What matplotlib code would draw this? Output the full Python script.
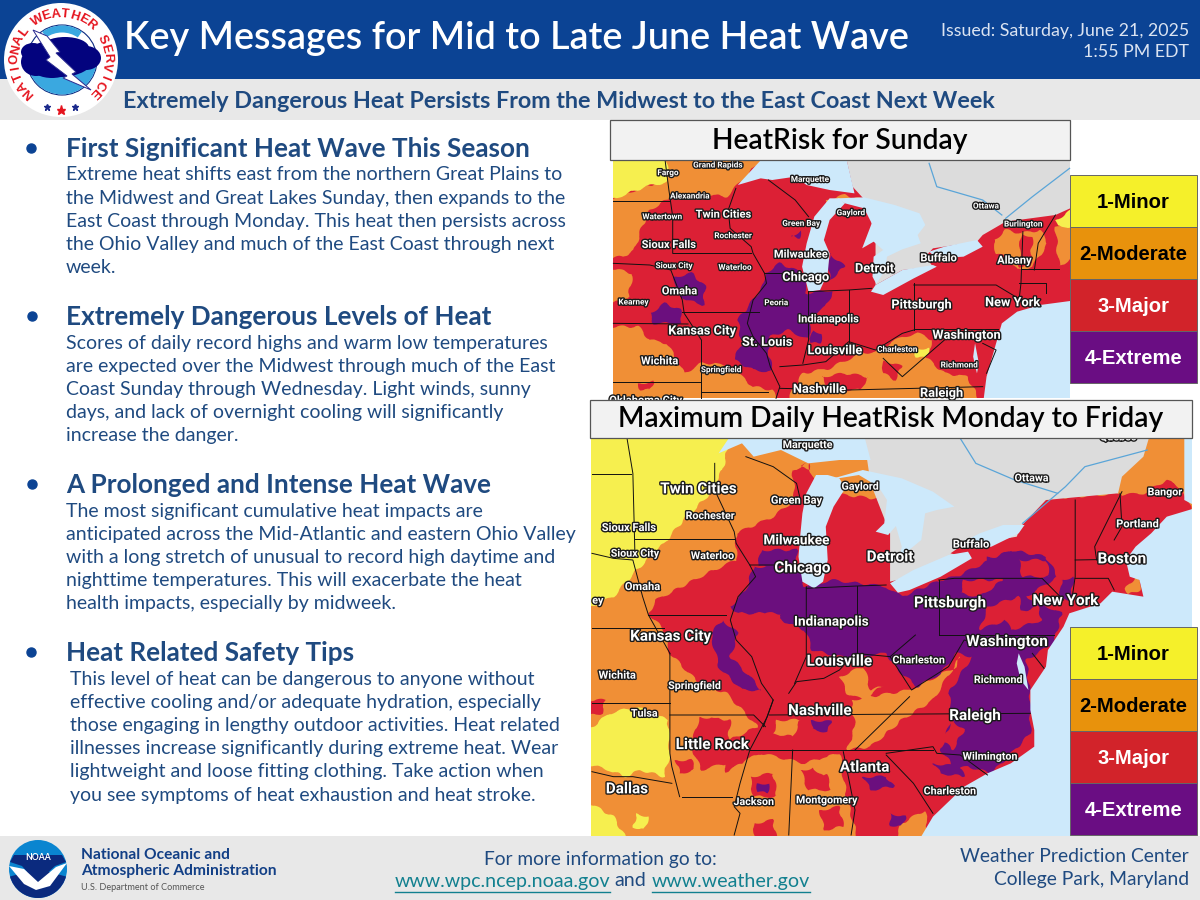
import numpy as np
import matplotlib
matplotlib.use("Agg")
import matplotlib.pyplot as plt
import matplotlib.patheffects as pe
from matplotlib.patches import Rectangle, Polygon, Circle, Wedge, Ellipse

FONT = "Lato"
BLUE_DARK = "#0b4394"
TEXT_BLUE = "#1f4a80"
GRAY = "#e8e8e8"
MAP_Y = "#f6ef4f"
MAP_O = "#f08f36"
MAP_R = "#dc2035"
MAP_P = "#6b0f7e"
WATER = "#cde9fb"
CANADA = "#dcdcdc"

title = "Key Messages for Mid to Late June Heat Wave"
subtitle = "Extremely Dangerous Heat Persists From the Midwest to the East Coast Next Week"
issued = ["Issued: Saturday, June 21, 2025", "1:55 PM EDT"]

headings = ["First Significant Heat Wave This Season",
            "Extremely Dangerous Levels of Heat",
            "A Prolonged and Intense Heat Wave",
            "Heat Related Safety Tips"]
body_1 = ["Extreme heat shifts east from the northern Great Plains to",
          "the Midwest and Great Lakes Sunday, then expands to the",
          "East Coast through Monday. This heat then persists across",
          "the Ohio Valley and much of the East Coast through next",
          "week."]
body_2 = ["Scores of daily record highs and warm low temperatures",
          "are expected over the Midwest through much of the East",
          "Coast Sunday through Wednesday. Light winds, sunny",
          "days, and lack of overnight cooling will significantly",
          "increase the danger."]
body_3 = ["The most significant cumulative heat impacts are",
          "anticipated across the Mid-Atlantic and eastern Ohio Valley",
          "with a long stretch of unusual to record high daytime and",
          "nighttime temperatures. This will exacerbate the heat",
          "health impacts, especially by midweek."]
body_4 = ["This level of heat can be dangerous to anyone without",
          "effective cooling and/or adequate hydration, especially",
          "those engaging in lengthy outdoor activities. Heat related",
          "illnesses increase significantly during extreme heat. Wear",
          "lightweight and loose fitting clothing. Take action when",
          "you see symptoms of heat exhaustion and heat stroke."]

legend_labels = ["1-Minor", "2-Moderate", "3-Major", "4-Extreme"]
legend_colors = ["#f5f02a", "#e8920c", "#d2232a", "#6a0d83"]
legend_text = ["black", "black", "white", "white"]

# Sunday map, traced outlines
top_orange = [
    [(170, 150), (440, 150), (360, 225), (330, 260), (250, 250), (180, 265), (130, 300), (110, 350), (90, 420), (60, 440), (35, 445), (35, 270), (120, 230), (170, 210)],
    [(35, 470), (85, 490), (75, 560), (35, 590)],
    [(35, 650), (100, 650), (130, 690), (175, 700), (220, 790), (265, 760), (300, 760), (350, 780), (400, 830), (450, 840), (470, 865), (35, 865)],
    [(480, 865), (530, 790), (600, 775), (680, 730), (720, 725), (790, 680), (830, 670), (870, 690), (850, 740), (900, 790), (960, 800), (1000, 865)],
    [(1030, 390), (1060, 360), (1100, 370), (1150, 360), (1170, 400), (1130, 470), (1090, 480), (1060, 440), (1035, 430)],
    [(1190, 350), (1227, 320), (1227, 430), (1200, 470), (1195, 420)],
    [(590, 270), (640, 255), (690, 270), (640, 275), (600, 290)],
]
top_yellow = [
    [(35, 150), (170, 150), (180, 215), (120, 230), (35, 275)],
    [(1190, 330), (1227, 290), (1227, 350), (1195, 350)],
    [(825, 715), (860, 715), (850, 745), (825, 740)],
]
top_red = [
    [(880, 700), (960, 730), (990, 800), (940, 790), (880, 760)],
    [(580, 800), (640, 790), (700, 800), (680, 840), (600, 840)],
    [(1100, 370), (1130, 380), (1125, 470), (1095, 470)],
    [(100, 820), (140, 815), (130, 840), (105, 838)],
    [(740, 750), (790, 770), (770, 810), (740, 790)],
]
top_purple = [
    [(430, 490), (470, 460), (530, 490), (540, 550), (610, 540), (590, 590), (545, 620), (550, 690), (490, 660), (445, 680), (440, 720), (450, 785), (400, 780), (350, 750), (370, 700), (360, 630), (400, 570), (430, 520)],
    [(195, 500), (240, 490), (275, 530), (270, 585), (225, 570), (195, 540)],
    [(130, 610), (170, 580), (210, 600), (215, 640), (140, 640)],
    [(600, 430), (640, 470), (600, 510), (598, 470)],
    [(500, 380), (525, 360), (520, 385)],
    [(555, 660), (580, 670), (575, 700), (550, 700)],
]
top_canada = [(640, 150), (1227, 150), (1227, 285), (1190, 315), (1060, 335), (1000, 375), (985, 395), (870, 415), (850, 440), (870, 470), (790, 480), (720, 525), (720, 400), (700, 280), (660, 230)]
top_lakes = [
    [(360, 225), (440, 150), (640, 150), (665, 250), (600, 240), (540, 225), (510, 200), (450, 210), (420, 205)],
    [(600, 265), (560, 320), (540, 400), (528, 470), (545, 545), (575, 540), (595, 490), (600, 430), (585, 390), (600, 330), (640, 280), (625, 265)],
    [(620, 265), (690, 262), (770, 285), (835, 310), (850, 345), (830, 375), (838, 400), (790, 418), (750, 440), (745, 480), (722, 522), (712, 500), (715, 440), (740, 420), (715, 395), (685, 415), (710, 340), (690, 295), (640, 280)],
    [(708, 545), (740, 555), (820, 505), (880, 470), (870, 465), (790, 480), (720, 525)],
    [(860, 425), (900, 410), (985, 390), (1000, 410), (950, 440), (880, 445)],
    [(1227, 570), (1150, 585), (1090, 605), (1050, 640), (1035, 700), (1010, 800), (1000, 865), (1227, 865)],
    [(980, 700), (990, 760), (985, 790), (975, 740)],
]
top_lines = [
    [(35, 272), (180, 272)], [(170, 150), (180, 240), (190, 320), (190, 430)],
    [(35, 460), (130, 465), (185, 480), (215, 570), (220, 610), (265, 690)], [(190, 430), (395, 430)],
    [(355, 235), (335, 300), (340, 355), (395, 410), (400, 430), (430, 490)], [(430, 490), (535, 490)],
    [(215, 605), (415, 605)], [(430, 490), (435, 520), (400, 570), (385, 640), (400, 680), (435, 730), (445, 770), (470, 830), (460, 865)],
    [(35, 640), (230, 642)], [(265, 690), (265, 865)], [(35, 815), (265, 815)], [(265, 845), (440, 845)],
    [(545, 545), (545, 690), (530, 760)], [(650, 540), (650, 695)], [(545, 545), (650, 540), (710, 535)],
    [(470, 770), (530, 765), (590, 755), (650, 695), (720, 720), (790, 670), (820, 660)], [(820, 520), (820, 660)],
    [(820, 525), (1035, 525), (1100, 570)], [(820, 658), (1040, 658)], [(470, 835), (650, 840), (1000, 830)],
    [(740, 745), (790, 800), (870, 720), (900, 690)], [(1105, 365), (1100, 520), (1095, 570)],
    [(1190, 315), (1145, 400), (1135, 480)], [(1100, 478), (1200, 478)], [(1095, 520), (1165, 520), (1165, 550)],
    [(440, 210), (510, 270), (545, 320)], [(1000, 700), (1035, 720), (1010, 790)],
]
top_rivers = [[(1227, 175), (1130, 260), (1060, 325)], [(860, 160), (880, 230), (1000, 270), (1050, 315)]]
# name, x, y, size class
top_cities = [
    ("Grand Rapids", 307, 165, 0), ("Fargo", 177, 188, 0), ("Alexandria", 234, 258, 0), ("Marquette", 548, 208, 0),
    ("Twin Cities", 323, 314, 1), ("Watertown", 162, 320, 0), ("Green Bay", 525, 340, 0), ("Gaylord", 655, 308, 0),
    ("Ottawa", 1008, 288, 0), ("Burlington", 1105, 342, 0), ("Rochester", 347, 377, 0), ("Sioux Falls", 180, 405, 1),
    ("Milwaukee", 525, 434, 1), ("Buffalo", 885, 445, 1), ("Albany", 1083, 452, 1), ("Sioux City", 193, 467, 0),
    ("Waterloo", 352, 472, 0), ("Chicago", 537, 502, 2), ("Detroit", 717, 476, 2), ("Omaha", 208, 544, 1),
    ("Kearney", 87, 576, 0), ("Peoria", 460, 578, 0), ("New York", 1078, 578, 2), ("Pittsburgh", 840, 585, 2),
    ("Indianapolis", 597, 628, 1), ("Kansas City", 266, 663, 2), ("Washington", 957, 676, 2), ("St. Louis", 436, 697, 2),
    ("Louisville", 613, 722, 2), ("Charleston", 776, 718, 0), ("Wichita", 156, 754, 1), ("Springfield", 316, 779, 0),
    ("Richmond", 938, 765, 0), ("Nashville", 573, 838, 2), ("Raleigh", 892, 850, 2), ("Oklahoma City", 120, 872, 1),
]

# Monday to Friday map, traced outlines
bot_yellow = [
    [(5, 115), (365, 115), (340, 210), (300, 290), (240, 360), (190, 430), (120, 510), (60, 590), (5, 630)],
    [(5, 1090), (5, 1000), (50, 940), (120, 920), (200, 960), (205, 1060), (190, 1130), (130, 1110), (90, 1130), (50, 1110)],
    [(5, 1200), (60, 1250), (100, 1305), (5, 1305)],
    [(120, 1240), (150, 1250), (140, 1290), (110, 1280)],
]
bot_red = [
    [(375, 480), (375, 400), (470, 350), (525, 300), (520, 210), (560, 190), (600, 300), (620, 280), (760, 300), (1130, 300), (1360, 280), (1480, 220), (1530, 290), (1545, 400), (1545, 640), (1200, 1305), (880, 1305), (690, 1305), (660, 1200), (640, 1060), (550, 1090), (440, 1060), (400, 1080), (350, 1120), (340, 1030), (430, 980), (350, 880), (280, 850), (205, 760), (190, 690), (150, 640), (170, 600), (300, 520)],
    [(5, 900), (40, 900), (30, 940), (5, 950)],
    [(410, 1130), (470, 1120), (480, 1190), (420, 1190)],
    [(540, 1110), (600, 1100), (620, 1170), (560, 1170)],
    [(220, 1080), (260, 1080), (270, 1110), (230, 1120)],
    [(280, 950), (360, 960), (350, 1090), (285, 1110), (260, 1040)],
    [(420, 1270), (470, 1260), (480, 1305), (425, 1305)],
    [(590, 1230), (640, 1220), (650, 1280), (600, 1290)],
]
bot_orange = [
    [(670, 900), (820, 870), (940, 800), (950, 770), (880, 900), (800, 960), (720, 1040), (660, 1050), (680, 980)],
    [(780, 1305), (800, 1270), (860, 1230), (870, 1305)],
    [(340, 1120), (400, 1085), (400, 1130), (360, 1150)],
    [(1400, 530), (1415, 540), (1410, 570), (1380, 585), (1375, 565)],
    [(1440, 115), (1525, 115), (1525, 270), (1480, 240), (1420, 280), (1365, 285), (1365, 230), (1420, 170)],
    [(400, 170), (560, 205), (720, 210), (690, 225), (620, 240), (590, 300), (560, 190), (520, 210), (470, 170)],
    [(560, 1090), (640, 1065), (650, 1100), (600, 1130)],
    [(480, 960), (540, 960), (520, 1010), (470, 1000)],
    [(640, 830), (700, 800), (760, 850), (700, 900), (660, 880)],
    [(230, 860), (340, 890), (350, 950), (230, 950)],
]
bot_purple = [
    [(420, 500), (540, 500), (550, 560), (620, 540), (760, 560), (800, 590), (900, 540), (940, 530), (1080, 450), (1170, 470), (1200, 530), (1160, 560), (1120, 590), (1210, 640), (1190, 730), (1120, 780), (1130, 900), (1130, 1000), (1090, 1050), (1030, 1120), (970, 1100), (930, 1110), (920, 1080), (900, 1050), (930, 950), (920, 880), (980, 770), (940, 760), (900, 820), (840, 860), (790, 810), (760, 760), (690, 770), (680, 780), (570, 750), (555, 700), (550, 690), (450, 640), (380, 640), (360, 620), (400, 570)],
    [(340, 660), (380, 700), (360, 770), (410, 830), (440, 870), (390, 870), (330, 800), (310, 700)],
    [(700, 1130), (760, 1130), (780, 1160), (720, 1170)],
    [(430, 1150), (460, 1150), (455, 1180), (430, 1175)],
    [(880, 1090), (950, 1100), (960, 1130), (900, 1120)],
    [(570, 960), (620, 965), (610, 995), (570, 990)],
    [(770, 1240), (810, 1250), (800, 1280), (770, 1275)],
    [(440, 450), (530, 450), (530, 500), (430, 500)],
    [(1210, 540), (1240, 530), (1235, 600), (1205, 600)],
    [(460, 780), (490, 770), (500, 820), (465, 830)],
    [(1020, 470), (1060, 470), (1050, 500), (1010, 500)],
]
bot_red_holes = [
    [(420, 720), (470, 660), (540, 700), (550, 800), (490, 870), (440, 820)],
    [(1020, 620), (1100, 590), (1110, 640), (1000, 690)],
    [(420, 640), (490, 640), (480, 670), (430, 670)],
    [(700, 790), (770, 790), (780, 850), (720, 870)],
    [(1100, 480), (1170, 480), (1180, 530), (1110, 530)],
    [(550, 740), (590, 760), (580, 800), (545, 790)],
    [(960, 540), (1060, 540), (1000, 590), (950, 580)],
    [(1060, 650), (1150, 620), (1160, 660), (1080, 690)],
    [(930, 960), (960, 990), (930, 1050), (905, 1020)],
]
bot_canada = [(700, 115), (1440, 115), (1420, 170), (1365, 230), (1355, 280), (1170, 300), (1105, 380), (1095, 410), (950, 440), (925, 460), (975, 475), (820, 530), (770, 545), (770, 400), (720, 250)]
bot_lakes = [
    [(330, 160), (370, 115), (700, 115), (720, 180), (640, 180), (560, 190), (490, 150), (420, 170), (390, 130), (360, 145)],
    [(610, 225), (580, 225), (555, 280), (545, 340), (540, 400), (535, 470), (545, 545), (575, 565), (598, 545), (610, 480), (605, 380), (625, 320), (655, 265), (640, 235)],
    [(610, 240), (700, 210), (800, 235), (880, 275), (935, 320), (890, 330), (860, 340), (850, 420), (798, 470), (790, 490), (800, 440), (785, 378), (765, 405), (733, 395), (755, 370), (762, 300), (740, 260), (690, 225)],
    [(770, 550), (790, 578), (820, 570), (900, 530), (980, 475), (970, 455), (920, 465), (830, 510)],
    [(1100, 400), (1115, 375), (1060, 375), (1000, 400), (950, 430), (960, 445), (1030, 440)],
    [(1545, 320), (1480, 350), (1440, 400), (1400, 440), (1375, 480), (1385, 530), (1410, 540), (1420, 590), (1340, 575), (1310, 610), (1230, 640), (1215, 680), (1175, 750), (1170, 800), (1130, 870), (1130, 930), (1140, 990), (1140, 1040), (1080, 1090), (1020, 1120), (960, 1160), (880, 1250), (840, 1305), (1545, 1305)],
    [(1100, 760), (1115, 800), (1125, 870), (1105, 840), (1095, 790)],
    [(1525, 115), (1545, 115), (1545, 325), (1525, 300)],
]
bot_lines = [
    [(5, 222), (105, 222)], [(95, 115), (110, 220), (115, 450)], [(115, 418), (370, 418)],
    [(5, 460), (60, 475), (110, 480), (135, 590), (150, 645), (205, 760)], [(150, 645), (350, 645)],
    [(320, 190), (320, 270), (370, 395), (375, 430), (410, 495), (545, 495)],
    [(410, 495), (425, 530), (380, 590), (360, 660), (375, 720), (415, 770), (440, 850), (470, 900), (445, 980)],
    [(5, 685), (190, 685)], [(205, 760), (205, 1060), (210, 1100), (230, 1190)], [(5, 908), (205, 908)],
    [(205, 945), (420, 945), (450, 980)], [(470, 900), (455, 950), (410, 1050), (385, 1150), (370, 1220), (385, 1240), (370, 1305)],
    [(5, 1115), (60, 1130), (110, 1130), (210, 1150)], [(235, 1190), (365, 1190)], [(410, 1050), (880, 1050)],
    [(520, 1050), (510, 1305)], [(650, 1055), (680, 1230), (670, 1305)], [(760, 1065), (830, 1150), (880, 1240)],
    [(760, 1060), (880, 1040), (890, 1060), (950, 1065), (1020, 1125)], [(680, 1050), (820, 890)], [(460, 945), (1130, 940)],
    [(510, 880), (530, 845), (600, 835), (640, 810), (680, 760), (770, 770), (835, 705)], [(555, 560), (555, 770), (525, 850)],
    [(685, 558), (685, 760)], [(555, 565), (685, 558), (760, 555)], [(895, 540), (895, 705)],
    [(895, 540), (935, 535), (1160, 535), (1215, 600)], [(895, 705), (1190, 705)],
    [(770, 770), (825, 870), (920, 800), (960, 720), (1030, 740)], [(1245, 300), (1245, 530), (1235, 610)],
    [(1365, 275), (1295, 440), (1300, 480)], [(1245, 480), (1345, 478)], [(1245, 535), (1330, 535), (1345, 570)],
    [(1360, 280), (1365, 380), (1345, 420)], [(1135, 760), (1165, 805)], [(400, 170), (470, 200), (530, 250), (540, 300)],
]
bot_rivers = [[(950, 115), (990, 190), (1090, 240), (1200, 280)], [(1430, 150), (1270, 200), (1220, 260), (1110, 370)]]
bot_cities = [
    ("Marquette", 558, 135, 0), ("Quebec", 1355, 112, 0), ("Ottawa", 1133, 235, 0), ("Gaylord", 693, 260, 0),
    ("Bangor", 1475, 277, 0), ("Twin Cities", 278, 268, 3), ("Green Bay", 530, 302, 1), ("Rochester", 308, 348, 0),
    ("Portland", 1405, 373, 1), ("Sioux Falls", 100, 384, 1), ("Milwaukee", 530, 421, 2), ("Buffalo", 978, 434, 1),
    ("Sioux City", 115, 461, 0), ("Waterloo", 314, 468, 0), ("Detroit", 770, 472, 3), ("Boston", 1365, 478, 3),
    ("Chicago", 545, 505, 3), ("Omaha", 135, 561, 1), ("ey", 20, 602, 0), ("New York", 1220, 603, 3),
    ("Pittsburgh", 924, 610, 3), ("Indianapolis", 620, 665, 2), ("Kansas City", 207, 710, 3), ("Washington", 1070, 726, 3),
    ("Louisville", 640, 785, 3), ("Charleston", 843, 781, 0), ("Wichita", 70, 827, 1), ("Richmond", 1047, 840, 0),
    ("Springfield", 268, 858, 0), ("Nashville", 590, 933, 3), ("Tulsa", 139, 941, 0), ("Raleigh", 988, 948, 3),
    ("Little Rock", 314, 1035, 3), ("Wilmington", 1026, 1070, 0), ("Atlanta", 705, 1103, 3), ("Dallas", 95, 1168, 3),
    ("Charleston", 923, 1174, 0), ("Montgomery", 607, 1201, 0), ("Jackson", 420, 1206, 0),
]


def top_xy(pts):
    a = np.array(pts, dtype=float)
    return np.c_[600 + a[:, 0] / 2.613, 110 + a[:, 1] / 3]


def bot_xy(pts):
    a = np.array(pts, dtype=float)
    return np.c_[590 + a[:, 0] / 2.566, 400 + a[:, 1] / 3]


fig = plt.figure(figsize=(12, 9), dpi=100)
ax = fig.add_axes([0, 0, 1, 1])
ax.set_xlim(0, 1200)
ax.set_ylim(900, 0)
ax.axis("off")


def rect(x0, y0, x1, y1, color, z=1, **kw):
    r = Rectangle((x0, y0), x1 - x0, y1 - y0, facecolor=color, zorder=z, **kw)
    ax.add_patch(r)
    return r


def txt(x, y, s, size, color="black", ha="left", weight="normal", z=20, font=FONT):
    # va center sits a bit high for these fonts
    return ax.text(x, y + 2, s, fontsize=size, color=color, ha=ha, va="center", fontweight=weight, family=font, zorder=z)


def push_out(xy, box):
    # vertices on the map edge go past it, the clip hides the ragged border
    xy = xy.copy()
    xy[xy[:, 0] <= box[0] + 1, 0] -= 8
    xy[xy[:, 0] >= box[2] - 1, 0] += 8
    xy[xy[:, 1] <= box[1] + 1, 1] -= 8
    xy[xy[:, 1] >= box[3] - 1, 1] += 8
    return xy


def draw_map(box, conv, base, layers, lines, rivers, cities, sizes, z):
    clip = Rectangle((box[0], box[1]), box[2] - box[0], box[3] - box[1], transform=ax.transData)
    rect(box[0], box[1], box[2], box[3], base, z)
    for polys, col, rough in layers:
        for p in polys:
            patch = Polygon(push_out(conv(p), box), closed=True, facecolor=col, edgecolor="none", zorder=z + 0.1)
            ax.add_patch(patch)
            patch.set_clip_path(clip)
            if rough:
                # heat areas have ragged edges
                patch.set_sketch_params(1.3, 22, 2)
    for ln in lines:
        xy = conv(ln)
        ax.plot(xy[:, 0], xy[:, 1], color="#111111", lw=0.7, zorder=z + 0.2, clip_path=clip)
    for ln in rivers:
        xy = conv(ln)
        ax.plot(xy[:, 0], xy[:, 1], color="#5aa5d8", lw=0.9, zorder=z + 0.2, clip_path=clip)
    for name, x, y, k in cities:
        pos = conv([(x, y)])[0]
        t = ax.text(pos[0], pos[1], name, fontsize=sizes[k], color="white", ha="center", va="center",
                    fontweight="bold", family="Roboto", zorder=z + 0.3, clip_path=clip)
        t.set_path_effects([pe.withStroke(linewidth=2.0, foreground="#1a1a1a")])


def draw_legend(x0, x1, y0, seg):
    for i, lab in enumerate(legend_labels):
        rect(x0, y0 + i * seg, x1, y0 + (i + 1) * seg, legend_colors[i], 12, edgecolor="#666666", linewidth=0.7)
        txt((x0 + x1) / 2, y0 + (i + 0.5) * seg, lab, 14.6, legend_text[i], "center", "bold", 13, "Liberation Sans")


# header and footer bands
rect(0, 0, 1200, 79, BLUE_DARK, 2)
rect(0, 79, 1200, 120, GRAY, 2)
rect(0, 836, 1200, 900, GRAY, 2)
txt(124, 36, title, 27.2, "white", weight="semibold")
txt(123, 100, subtitle, 16.8, TEXT_BLUE, weight="bold")
txt(1189, 29, issued[0], 12.75, "#dbe4f2", "right")
txt(1189, 50, issued[1], 12.75, "#dbe4f2", "right")

# NWS logo
ax.add_patch(Circle((61, 60), 57, facecolor="white", edgecolor="none", zorder=5))
ax.add_patch(Circle((62, 60), 35, facecolor="white", edgecolor="#0b2a80", lw=0.8, zorder=6))
ax.add_patch(Wedge((62, 60), 34.5, 0, 180, facecolor="#3aa8e0", edgecolor="none", zorder=6.1))
ax.add_patch(Wedge((62, 60), 34.5, 235, 305, width=7, facecolor="#3aa8e0", edgecolor="none", zorder=6.2))
for cx, cy, rx, ry in [(60, 58, 34, 19), (36, 62, 15, 14), (33, 52, 12, 9), (86, 58, 15, 12), (65, 48, 24, 11), (52, 68, 20, 10)]:
    ax.add_patch(Ellipse((cx, cy), rx * 2, ry * 2, facecolor="#03037e", edgecolor="none", zorder=6.5))
bolt = np.array([(33, 30), (47, 36), (60, 52), (56, 53), (76, 72), (72, 74), (91, 90), (63, 78), (67, 76), (46, 60), (50, 57)])
ax.add_patch(Polygon(bolt, closed=True, facecolor="white", edgecolor="#2a2a90", lw=0.7, zorder=7))
letters = "NATIONAL WEATHER SERVICE"
for i, ch in enumerate(letters):
    ang = np.deg2rad(225 - i * 11.7)
    ax.text(61 + 46 * np.cos(ang), 60 - 46 * np.sin(ang), ch, fontsize=9.4, color="#e5141e", fontweight="bold",
            family="Liberation Sans", rotation=np.rad2deg(ang) - 90, ha="center", va="center", zorder=8,
            rotation_mode="anchor")
ax.plot([47, 75], [107, 107], ls="none", marker="*", ms=4.5, color="#1b2a8c", zorder=8)
ax.plot([61], [110], ls="none", marker="*", ms=6.5, color="#e5141e", zorder=8)

# left column
head_y = [148, 316, 484, 652]
body_y = [174, 342, 510, 678]
body_x = [66, 66, 66, 70]
bullet_x = [31, 32, 32, 31]
bodies = [body_1, body_2, body_3, body_4]
for i, head in enumerate(headings):
    ax.plot([bullet_x[i]], [head_y[i]], marker="o", ms=6.5, color=BLUE_DARK, zorder=5)
    txt(66, head_y[i] - 1, head, 18.85, TEXT_BLUE, weight="bold")
    for j, line in enumerate(bodies[i]):
        txt(body_x[i], body_y[i] + j * 23.2 - 1, line, 14.0, TEXT_BLUE)

# maps
draw_map((613, 160, 1070, 398), top_xy, MAP_R,
         [(top_orange, MAP_O, True), (top_yellow, MAP_Y, True), (top_red, MAP_R, True), (top_purple, MAP_P, True), ([top_canada], CANADA, False), (top_lakes, WATER, False)],
         top_lines, top_rivers, top_cities, [5.9, 8.0, 9.2], 3)
draw_map((591, 438, 1192, 836), bot_xy, MAP_O,
         [(bot_red, MAP_R, True), (bot_orange, MAP_O, True), (bot_yellow, MAP_Y, True), (bot_purple, MAP_P, True), (bot_red_holes, MAP_R, True), ([bot_canada], CANADA, False), (bot_lakes, WATER, False)],
         bot_lines, bot_rivers, bot_cities, [7.7, 8.0, 9.8, 11.0], 6)

rect(610, 120, 1070, 160, "#f2f2f2", 10, edgecolor="#555555", linewidth=0.9)
txt(840, 139, "HeatRisk for Sunday", 20.3, "black", "center", "semibold", 11)
rect(590, 400, 1192, 438, "#f2f2f2", 10, edgecolor="#555555", linewidth=0.9)
txt(891, 417, "Maximum Daily HeatRisk Monday to Friday", 20.3, "black", "center", "semibold", 11)
draw_legend(1070, 1197, 175, 52)
draw_legend(1070, 1197, 627, 52)

# footer
ax.add_patch(Circle((38, 869), 29, facecolor="#0a85d0", edgecolor="none", zorder=5))
ax.add_patch(Wedge((38, 869), 29, 15, 165, facecolor="#0b2a7e", edgecolor="none", zorder=5.1))
ax.add_patch(Polygon([(10, 862), (14, 855), (62, 855), (66, 862), (55, 866), (40, 880), (34, 880), (22, 866)], closed=True, facecolor="#0b2a7e", zorder=5.1))
ax.add_patch(Polygon([(9, 866), (24, 869), (38, 882), (56, 867), (67, 863), (50, 886), (36, 890), (24, 884)], closed=True, facecolor="white", zorder=5.2))
txt(38, 855, "NOAA", 6.2, "white", "center", "bold", 6)
txt(81, 853, "National Oceanic and", 11.2, "#123f86", weight="bold")
txt(81, 869, "Atmospheric Administration", 11.2, "#123f86", weight="bold")
txt(81, 885, "U.S. Department of Commerce", 6.6, "#555555")
txt(600, 857, "For more information go to:", 13.8, TEXT_BLUE, "center")
link_color = "#12808f"
txt(395, 879, "www.wpc.ncep.noaa.gov", 14.1, link_color)
txt(614, 879, "and", 14.1, TEXT_BLUE)
txt(652, 879, "www.weather.gov", 14.1, link_color)
ax.plot([395, 610], [892, 892], color=link_color, lw=1, zorder=20)
ax.plot([652, 810], [892, 892], color=link_color, lw=1, zorder=20)
txt(1189, 855, "Weather Prediction Center", 13.85, TEXT_BLUE, "right")
txt(1189, 878, "College Park, Maryland", 13.85, TEXT_BLUE, "right")

fig.savefig("out.png", dpi=100)
